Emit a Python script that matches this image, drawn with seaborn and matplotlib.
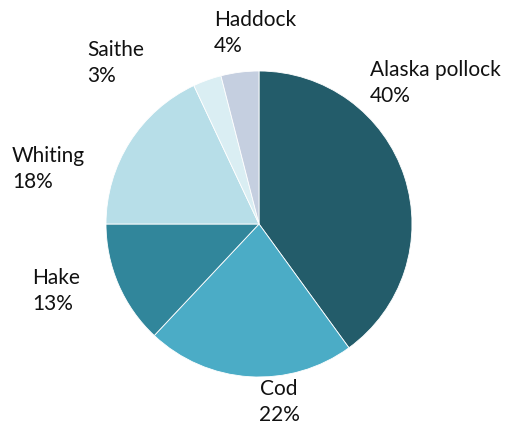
import matplotlib
matplotlib.use("Agg")
import matplotlib.pyplot as plt
import seaborn as sns

species = ["Alaska pollock", "Cod", "Hake", "Whiting", "Saithe", "Haddock"]
shares = [40, 22, 13, 18, 3, 4]
colors = ["#235C6A", "#4BACC6", "#31869B", "#B7DEE8", "#DAEEF3", "#C5CFE0"]

sns.set_theme(style="white")
plt.rcParams["font.family"] = ["Lato", "DejaVu Sans"]

fig = plt.figure(figsize=(5.10, 4.26), dpi=100)
ax = fig.add_axes([0, 0, 1, 1])

ax.pie(shares, colors=colors, startangle=90, counterclock=False,
       center=(259, -224), radius=153,
       wedgeprops=dict(edgecolor="white", linewidth=0.6))
ax.set_aspect("equal")
ax.set_xlim(0, 510)
ax.set_ylim(-426, 0)
ax.axis("off")

# label anchors (left/top in pixels) and alignment
label_pos = {
    "Alaska pollock": (370, 60, "left"),
    "Cod": (279, 379, "center"),
    "Hake": (32, 268, "left"),
    "Whiting": (12, 146, "left"),
    "Saithe": (87, 40, "left"),
    "Haddock": (214, 10, "left"),
}
for name, val in zip(species, shares):
    x, y, ha = label_pos[name]
    ax.text(x, -y, f"{name}\n{val}%", ha=ha, va="top", fontsize=15,
            color="#111111", linespacing=1.36, multialignment=ha)

fig.savefig("out.png", dpi=100, facecolor="white")
